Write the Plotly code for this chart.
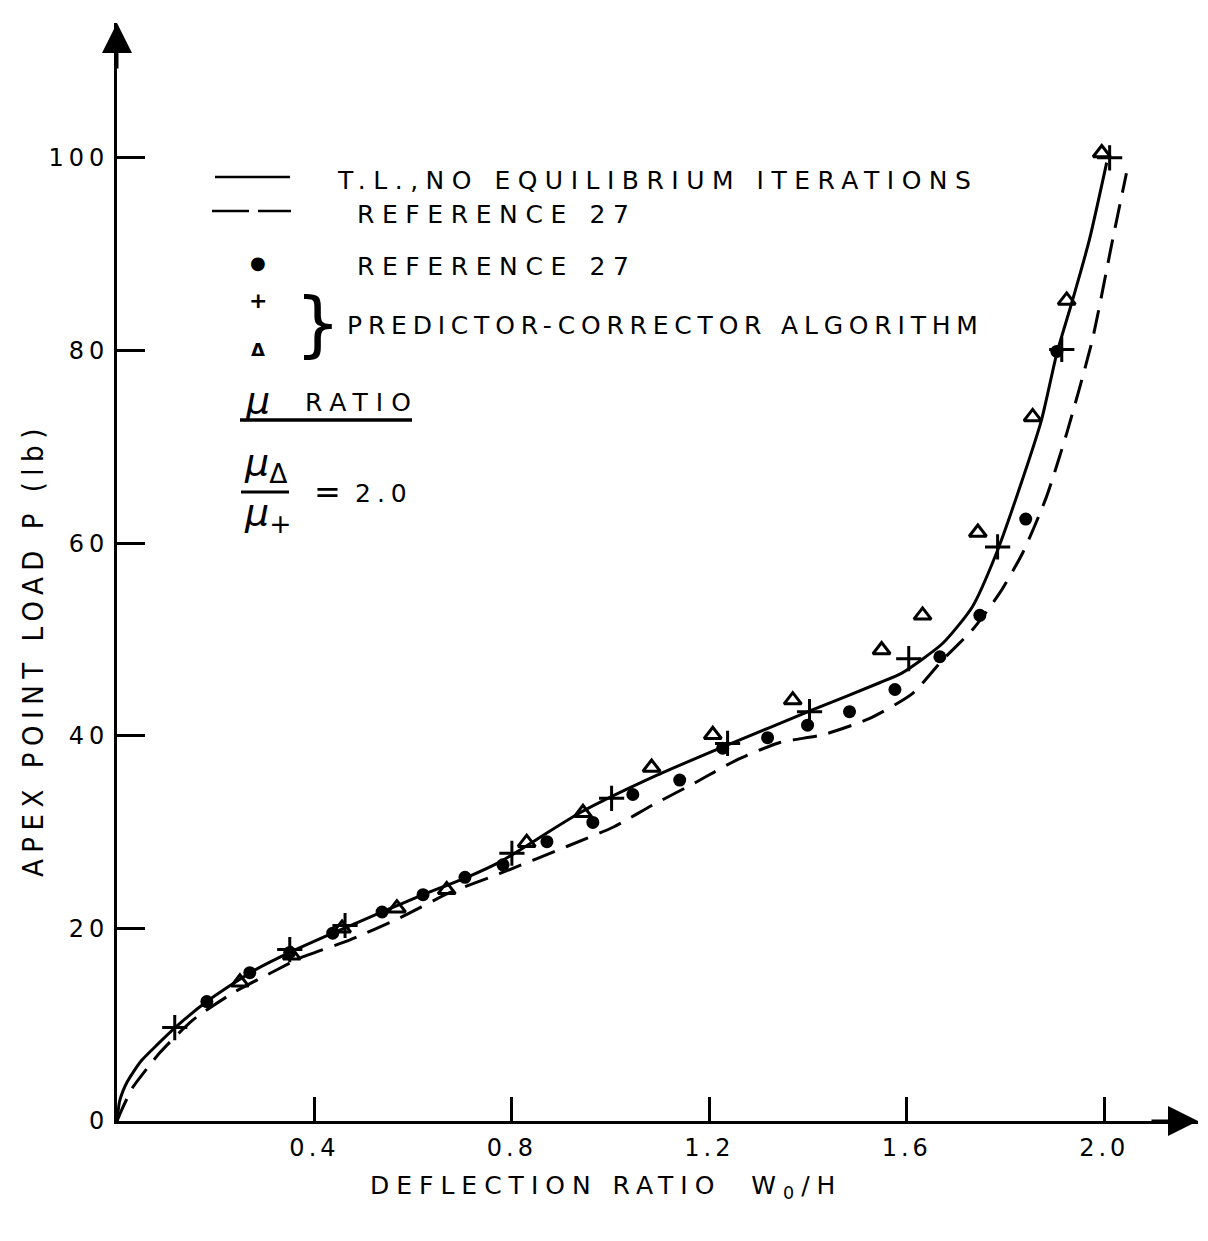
import plotly.graph_objects as go

# ---------------- data ----------------
tl_x = [0, 0.005, 0.012, 0.02, 0.032, 0.05, 0.081, 0.12, 0.182, 0.27, 0.35, 0.437, 0.537, 0.62,
        0.709, 0.776, 0.938, 1.094, 1.235, 1.41, 1.545, 1.59, 1.673, 1.733, 1.782, 1.829, 1.873,
        1.904, 1.934, 1.97, 2.005]
tl_y = [0, 2.0, 3.1, 4.0, 5.0, 6.3, 7.9, 9.8, 12.4, 15.4, 17.5, 19.5, 21.7, 23.5,
        25.3, 26.9, 32.0, 35.9, 39.0, 42.7, 45.5, 46.5, 49.6, 53.4, 59.0, 65.8, 72.8,
        79.7, 84.9, 91.5, 99.5]

ref_x = [0, 0.01, 0.02, 0.032, 0.087, 0.154, 0.235, 0.324, 0.37, 0.472, 0.573, 0.674, 0.776,
         0.911, 1.005, 1.085, 1.174, 1.256, 1.343, 1.43, 1.525, 1.612, 1.673,
         1.733, 1.788, 1.835, 1.883, 1.924, 1.976, 2.017, 2.045]
ref_y = [0, 1.2, 2.3, 3.5, 7.1, 10.5, 13.3, 15.7, 16.9, 18.8, 21.1, 23.7, 25.7,
         28.5, 30.5, 32.8, 35.2, 37.5, 39.3, 40.1, 41.8, 44.4, 47.9,
         51.0, 54.8, 59.0, 64.8, 71.4, 81.1, 91.5, 98.4]

dot_x = [0.182, 0.269, 0.350, 0.437, 0.537, 0.620, 0.705, 0.782, 0.871, 0.964,
         1.045, 1.140, 1.227, 1.318, 1.399, 1.484, 1.576, 1.667, 1.748, 1.841, 1.904]
dot_y = [12.4, 15.4, 17.5, 19.5, 21.7, 23.5, 25.3, 26.6, 29.0, 31.0,
         33.9, 35.4, 38.7, 39.8, 41.1, 42.5, 44.8, 48.2, 52.5, 62.5, 79.9]

plus_x = [0.117, 0.350, 0.462, 0.800, 1.002, 1.237, 1.403, 1.604, 1.784, 1.914, 2.011]
plus_y = [9.7, 17.8, 20.3, 27.8, 33.5, 39.2, 42.5, 48.0, 59.6, 80.1, 100.0]

tri_x = [0.249, 0.354, 0.456, 0.567, 0.668, 0.830, 0.944, 1.083, 1.207, 1.369,
         1.549, 1.632, 1.744, 1.855, 1.924, 1.995]
tri_y = [14.4, 17.2, 20.0, 22.1, 24.0, 28.9, 32.0, 36.7, 40.1, 43.7,
         48.9, 52.5, 61.1, 73.1, 85.2, 100.5]

x_ticks = [0.4, 0.8, 1.2, 1.6, 2.0]
x_tick_labels = ["0.4", "0.8", "1.2", "1.6", "2.0"]
y_ticks = [0, 20, 40, 60, 80, 100]
y_tick_labels = ["0", "20", "40", "60", "80", "100"]

# ---------------- layout geometry ----------------
OFF = 8                       # page body margin
W, H = 1208 - 2 * OFF, 1241 - 2 * OFF
X0P, Y0P, XRP, YTP = 117, 1121, 1198, 23   # page pixels of plot area
L, T = X0P - OFF, YTP - OFF
R, B = W - (XRP - OFF), H - (Y0P - OFF)
XMAX, YMAX = 2.19, 114.0
pw, ph = XRP - X0P, Y0P - YTP


def px(xp):
    return (xp - X0P) / pw * XMAX


def py(yp):
    return (Y0P - yp) / ph * YMAX


def sp(s, ls):
    return '<span style="letter-spacing:%spx">%s</span>' % (ls, s)


FONT = "DejaVu Sans"
INK = "black"

fig = go.Figure()
fig.add_trace(go.Scatter(x=tl_x, y=tl_y, mode="lines", line=dict(color=INK, width=3, shape="spline", smoothing=0.6),
                         hoverinfo="skip", showlegend=False))
fig.add_trace(go.Scatter(x=ref_x, y=ref_y, mode="lines",
                         line=dict(color=INK, width=3, dash="24px,12px", shape="spline", smoothing=0.6),
                         hoverinfo="skip", showlegend=False))
fig.add_trace(go.Scatter(x=dot_x, y=dot_y, mode="markers", marker=dict(symbol="circle", size=13, color=INK),
                         showlegend=False))
fig.add_trace(go.Scatter(x=plus_x, y=plus_y, mode="markers",
                         marker=dict(symbol="cross-thin", size=18, color=INK, line=dict(width=3, color=INK)),
                         showlegend=False))
fig.add_trace(go.Scatter(x=tri_x, y=tri_y, mode="markers",
                         marker=dict(symbol="triangle-up-open", size=15, color=INK, line=dict(width=3, color=INK)),
                         showlegend=False))

shapes = []
shapes.append(dict(type="line", xref="x", yref="y", x0=px(215), x1=px(290), y0=py(177), y1=py(177),
                   line=dict(color=INK, width=2.5)))
shapes.append(dict(type="line", xref="x", yref="y", x0=px(212), x1=px(249), y0=py(211), y1=py(211),
                   line=dict(color=INK, width=2.5)))
shapes.append(dict(type="line", xref="x", yref="y", x0=px(258), x1=px(291), y0=py(211), y1=py(211),
                   line=dict(color=INK, width=2.5)))
shapes.append(dict(type="line", xref="x", yref="y", x0=px(240), x1=px(412), y0=py(420), y1=py(420),
                   line=dict(color=INK, width=3.5)))
shapes.append(dict(type="line", xref="x", yref="y", x0=px(241), x1=px(289), y0=py(492), y1=py(492),
                   line=dict(color=INK, width=3)))

ann = []


def text(xp, yp, s, size=24, xanchor="left", **kw):
    ann.append(dict(x=px(xp), y=py(yp), xref="x", yref="y", text=s, showarrow=False,
                    xanchor=xanchor, yanchor="middle", font=dict(family=FONT, size=size, color=INK), **kw))


text(335, 180, sp("T.L.,NO EQUILIBRIUM ITERATIONS", 7.5), 25)
text(355, 214, sp("REFERENCE 27", 7.6), 25)
text(355, 266, sp("REFERENCE 27", 7.6), 25)
text(345, 325, sp("PREDICTOR-CORRECTOR ALGORITHM", 5.8), 25)
text(258, 262, "●", 18, xanchor="center")
text(258, 300, "<b>+</b>", 22, xanchor="center")
text(258, 349, "<b>Δ</b>", 18, xanchor="center")
text(318, 323, "}", 72, xanchor="center")
text(243, 400, "<i>μ</i>", 38)
text(303, 402, sp("RATIO", 8), 25)
text(242, 464, "<i>μ</i><sub>Δ</sub>", 38)
text(242, 514, "<i>μ</i><sub>+</sub>", 38)
text(312, 492, "=", 32)
text(353, 493, sp("2.0", 6), 25)

# axis titles (outside plot area -> paper coordinates)
ann.append(dict(x=(33 - X0P) / pw, y=(Y0P - 650) / ph, xref="paper", yref="paper",
                text=sp("APEX POINT LOAD P (lb)", 6.5), showarrow=False,
                textangle=-90, xanchor="center", yanchor="middle",
                font=dict(family="DejaVu Sans Condensed, DejaVu Sans", size=29, color=INK)))
ann.append(dict(x=(606 - X0P) / pw, y=(Y0P - 1187) / ph, xref="paper", yref="paper",
                text=sp("DEFLECTION RATIO  W<sub>0</sub>/H", 7), showarrow=False,
                xanchor="center", yanchor="middle", font=dict(family=FONT, size=25, color=INK)))

# axis arrowheads
ann.append(dict(x=XMAX, y=0, ax=px(1150), ay=0, xref="x", yref="y", axref="x", ayref="y", text="",
                showarrow=True, arrowhead=2, arrowsize=2, arrowwidth=3, arrowcolor=INK, standoff=0))
ann.append(dict(x=0, y=YMAX, ax=0, ay=py(70), xref="x", yref="y", axref="x", ayref="y", text="",
                showarrow=True, arrowhead=2, arrowsize=2, arrowwidth=3, arrowcolor=INK, standoff=0))

tick_x_text = [sp(t, 4) for t in x_tick_labels]
tick_y_text = [sp(t, 5) for t in y_tick_labels]

fig.update_layout(
    width=W, height=H,
    margin=dict(l=L, r=R, t=T, b=B),
    paper_bgcolor="white", plot_bgcolor="white",
    shapes=shapes, annotations=ann,
    xaxis=dict(range=[0, XMAX], showgrid=False, zeroline=False, showline=True, linecolor=INK, linewidth=3,
               tickmode="array", tickvals=x_ticks, ticktext=tick_x_text, ticks="inside", ticklen=24,
               tickwidth=3, tickcolor=INK, tickfont=dict(family=FONT, size=24, color=INK),
               ticklabelstandoff=3),
    yaxis=dict(range=[0, YMAX], showgrid=False, zeroline=False, showline=True, linecolor=INK, linewidth=3,
               tickmode="array", tickvals=y_ticks, ticktext=tick_y_text, ticks="inside", ticklen=28,
               tickwidth=3, tickcolor=INK, tickfont=dict(family=FONT, size=24, color=INK),
               ticklabelstandoff=0),
)

fig.write_html("out.html")
